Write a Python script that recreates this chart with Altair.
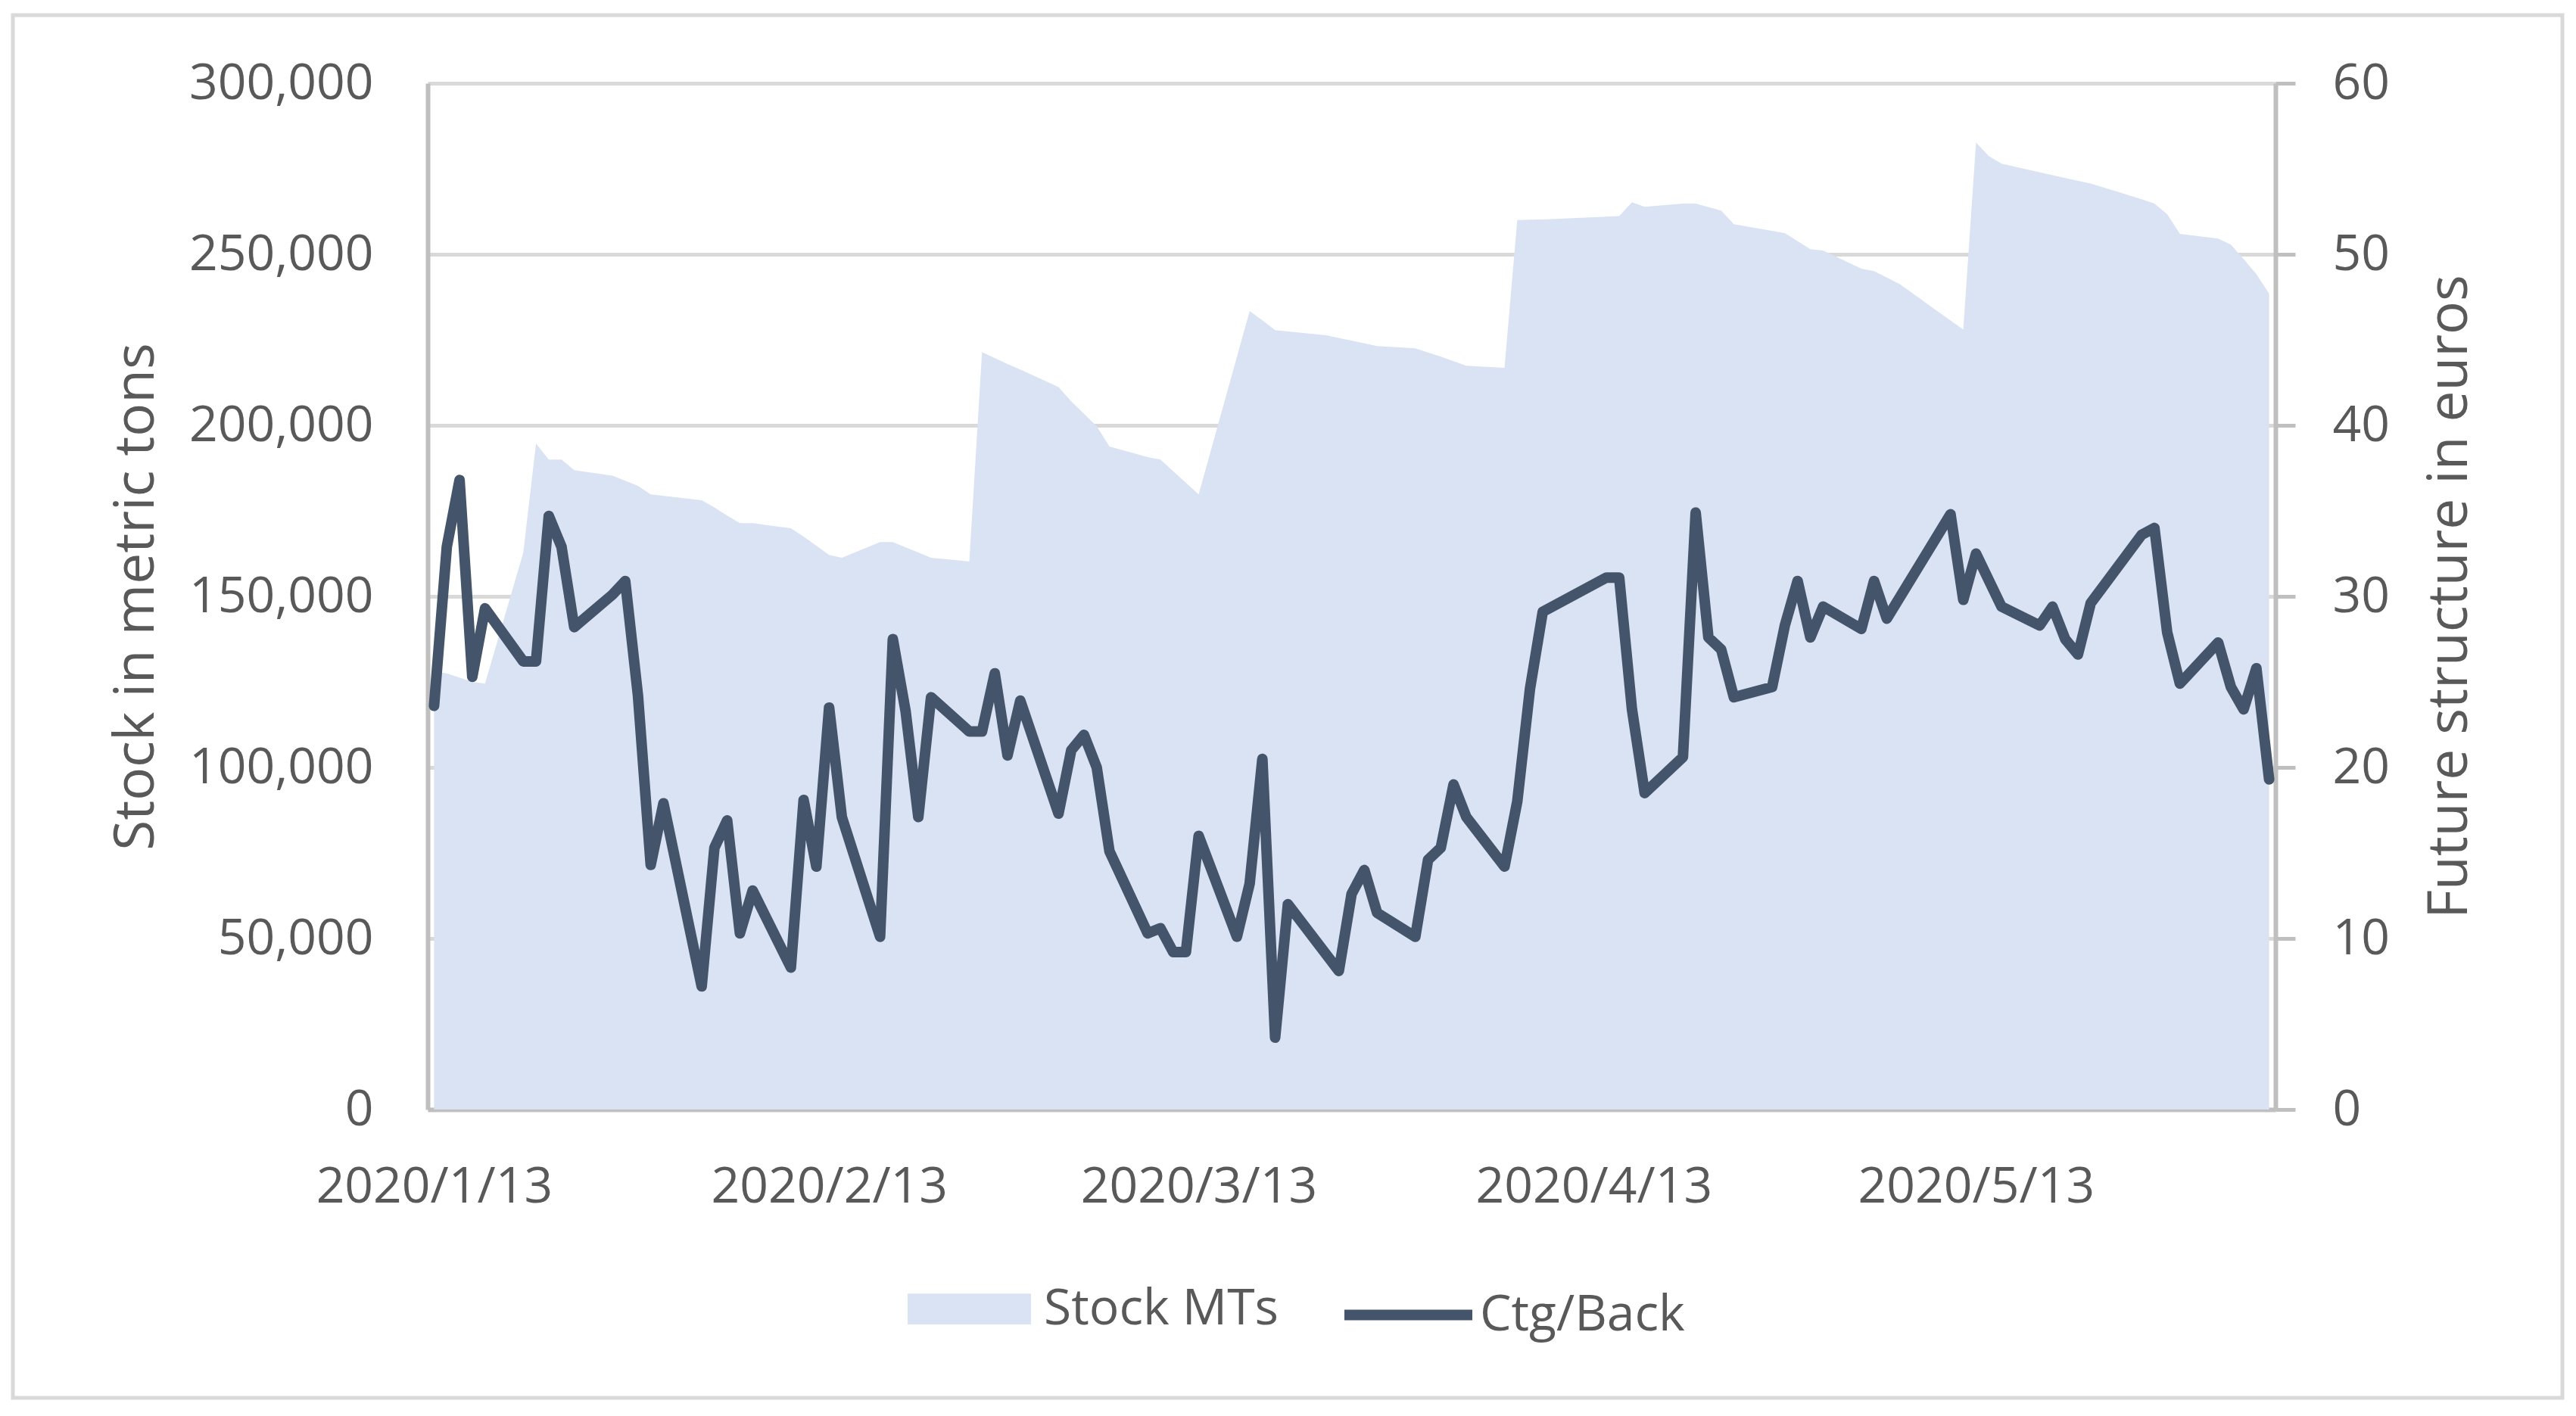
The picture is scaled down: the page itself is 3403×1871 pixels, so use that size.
import altair as alt
import pandas as pd

FONT = "Open Sans"
TEXT = "#595959"
AREA_COLOR = "#dae3f3"
LINE_COLOR = "#44546a"
GRID = "#d9d9d9"
AXIS = "#bfbfbf"

# ---- data ----
stock_dates = [
    "2020-01-13", "2020-01-14", "2020-01-16", "2020-01-17", "2020-01-20", "2020-01-21",
    "2020-01-22", "2020-01-23", "2020-01-24", "2020-01-27", "2020-01-29", "2020-01-30",
    "2020-02-03", "2020-02-04", "2020-02-05", "2020-02-06", "2020-02-07", "2020-02-10",
    "2020-02-11", "2020-02-13", "2020-02-14", "2020-02-17", "2020-02-18", "2020-02-21",
    "2020-02-24", "2020-02-25", "2020-02-27", "2020-02-28", "2020-03-02", "2020-03-03",
    "2020-03-05", "2020-03-06", "2020-03-09", "2020-03-10", "2020-03-13", "2020-03-17",
    "2020-03-18", "2020-03-19", "2020-03-23", "2020-03-27", "2020-03-30", "2020-04-01",
    "2020-04-03", "2020-04-06", "2020-04-07", "2020-04-09", "2020-04-15", "2020-04-16",
    "2020-04-17", "2020-04-20", "2020-04-21", "2020-04-23", "2020-04-24", "2020-04-28",
    "2020-04-30", "2020-05-01", "2020-05-04", "2020-05-05", "2020-05-07", "2020-05-12",
    "2020-05-13", "2020-05-14", "2020-05-15", "2020-05-20", "2020-05-22", "2020-05-26",
    "2020-05-27", "2020-05-28", "2020-05-29", "2020-06-01", "2020-06-02", "2020-06-03",
    "2020-06-04", "2020-06-05",
]
stock_values = [
    128000, 127500, 125000, 124500, 162800, 194700,
    190000, 190000, 186900, 185300, 182300, 179800,
    178100, 176000, 173600, 171400, 171400, 169900,
    167500, 162100, 161300, 165900, 165900, 161300,
    160200, 221400, 217900, 216300, 211200, 207000,
    199700, 193800, 190700, 190000, 179800, 233400,
    230700, 227800, 226300, 223200, 222500, 220100,
    217400, 216800, 260000, 260200, 261200, 265200,
    263900, 264800, 264800, 262800, 258800, 256200,
    251500, 251100, 245800, 245100, 241300, 228000,
    282700, 278700, 276500, 272300, 270700, 266100,
    264800, 261700, 256000, 254600, 252800, 248600,
    244200, 238500,
]

ctg_dates = [
    "2020-01-13", "2020-01-14", "2020-01-15", "2020-01-16", "2020-01-17", "2020-01-20",
    "2020-01-21", "2020-01-22", "2020-01-23", "2020-01-24", "2020-01-27", "2020-01-28",
    "2020-01-29", "2020-01-30", "2020-01-31", "2020-02-03", "2020-02-04", "2020-02-05",
    "2020-02-06", "2020-02-07", "2020-02-10", "2020-02-11", "2020-02-12", "2020-02-13",
    "2020-02-14", "2020-02-17", "2020-02-18", "2020-02-19", "2020-02-20", "2020-02-21",
    "2020-02-24", "2020-02-25", "2020-02-26", "2020-02-27", "2020-02-28", "2020-03-02",
    "2020-03-03", "2020-03-04", "2020-03-05", "2020-03-06", "2020-03-09", "2020-03-10",
    "2020-03-11", "2020-03-12", "2020-03-13", "2020-03-16", "2020-03-17", "2020-03-18",
    "2020-03-19", "2020-03-20", "2020-03-24", "2020-03-25", "2020-03-26", "2020-03-27",
    "2020-03-30", "2020-03-31", "2020-04-01", "2020-04-02", "2020-04-03", "2020-04-06",
    "2020-04-07", "2020-04-08", "2020-04-09", "2020-04-14", "2020-04-15", "2020-04-16",
    "2020-04-17", "2020-04-20", "2020-04-21", "2020-04-22", "2020-04-23", "2020-04-24",
    "2020-04-27", "2020-04-28", "2020-04-29", "2020-04-30", "2020-05-01", "2020-05-04",
    "2020-05-05", "2020-05-06", "2020-05-11", "2020-05-12", "2020-05-13", "2020-05-15",
    "2020-05-18", "2020-05-19", "2020-05-20", "2020-05-21", "2020-05-22", "2020-05-26",
    "2020-05-27", "2020-05-28", "2020-05-29", "2020-06-01", "2020-06-02", "2020-06-03",
    "2020-06-04", "2020-06-05",
]
ctg_values = [
    23.6, 32.9, 36.8, 25.3, 29.3, 26.2,
    26.2, 34.7, 32.9, 28.2, 30.1, 30.9,
    24.2, 14.3, 17.9, 7.2, 15.3, 16.9,
    10.3, 12.8, 8.3, 18.1, 14.2, 23.5,
    17.1, 10.1, 27.5, 23.3, 17.1, 24.1,
    22.1, 22.1, 25.5, 20.7, 23.9, 17.3,
    21.0, 21.9, 20.0, 15.1, 10.3, 10.6,
    9.2, 9.2, 16.0, 10.1, 13.2, 20.5,
    4.2, 12.0, 8.1, 12.6, 14.0, 11.5,
    10.1, 14.6, 15.3, 19.0, 17.1, 14.2,
    18.0, 24.6, 29.1, 31.1, 31.1, 23.4,
    18.5, 20.6, 34.9, 27.6, 26.9, 24.1,
    24.7, 28.3, 30.9, 27.6, 29.4, 28.1,
    30.9, 28.7, 34.8, 29.8, 32.5, 29.4,
    28.3, 29.4, 27.5, 26.6, 29.6, 33.6,
    34.0, 27.9, 24.9, 27.3, 24.7, 23.4,
    25.8, 19.3,
]

x_tick_dates = ["2020-01-13", "2020-02-13", "2020-03-13", "2020-04-13", "2020-05-13"]
left_ticks = [0, 50000, 100000, 150000, 200000, 250000, 300000]
right_ticks = [0, 10, 20, 30, 40, 50, 60]
stock_name = "Stock MTs"
ctg_name = "Ctg/Back"

PLOT_W = 2441
PLOT_H = 1356


def local(d):
    return d + "T00:00:00"


def dt(s, hours=0):
    y, m, d = (int(p) for p in s.split("-"))
    return alt.DateTime(year=y, month=m, date=d, hours=hours)


stock_df = pd.DataFrame({"date": [local(d) for d in stock_dates],
                         "stock": stock_values, "series": stock_name})
ctg_df = pd.DataFrame({"date": [local(d) for d in ctg_dates],
                       "ctg": ctg_values, "series": ctg_name})

x_enc = alt.X(
    "date:T",
    title=None,
    scale=alt.Scale(domain=[dt("2020-01-12", 12), dt("2020-06-05", 12)]),
    axis=alt.Axis(
        values=[dt(t) for t in x_tick_dates],
        labelExpr="timeFormat(datum.value, '%Y/%-m/%-d')",
        grid=False,
        ticks=False,
        domainColor=AXIS,
        domainWidth=6,
        labelPadding=70,
        labelOverlap=False,
        labelFlush=False,
        labelLimit=0,
    ),
)

area = alt.Chart(stock_df).mark_area(interpolate="linear", opacity=1).encode(
    x=x_enc,
    y=alt.Y(
        "stock:Q",
        title="Stock in metric tons",
        scale=alt.Scale(domain=[0, 300000], nice=False),
        axis=alt.Axis(
            orient="left",
            values=left_ticks,
            labelExpr="format(datum.value, ',')",
            grid=True,
            gridColor=GRID,
            gridWidth=5,
            ticks=False,
            domainColor=AXIS,
            domainWidth=6,
            labelPadding=72,
            labelLimit=0,
            titleX=-348,
            titleY=PLOT_H / 2,
            titleAngle=270,
            titleBaseline="bottom",
            titleAlign="center",
        ),
    ),
    color=alt.Color(
        "series:N",
        scale=alt.Scale(domain=[stock_name], range=[AREA_COLOR]),
        legend=alt.Legend(
            orient="none", legendX=634, legendY=1538, title=None, padding=0,
            symbolType="M-1,-0.25H1V0.25H-1Z", symbolSize=26569,
            symbolStrokeWidth=0, symbolOpacity=1, labelOffset=17, labelLimit=0,
        ),
    ),
)

line = alt.Chart(ctg_df).mark_line(
    strokeWidth=14, strokeJoin="round", strokeCap="round"
).encode(
    x=x_enc,
    y=alt.Y(
        "ctg:Q",
        title="Future structure in euros",
        scale=alt.Scale(domain=[0, 60], nice=False),
        axis=alt.Axis(
            orient="right",
            values=right_ticks,
            labelExpr="format(datum.value, 'd')",
            grid=False,
            ticks=True,
            tickSize=26,
            tickColor=AXIS,
            tickWidth=5,
            domainColor=AXIS,
            domainWidth=6,
            labelPadding=49,
            labelLimit=0,
            titleAngle=270,
            titleBaseline="top",
            titlePadding=44,
        ),
    ),
    stroke=alt.Stroke(
        "series:N",
        scale=alt.Scale(domain=[ctg_name], range=[LINE_COLOR]),
        legend=alt.Legend(
            orient="none", legendX=1204, legendY=1536, title=None, padding=0,
            symbolType="stroke", symbolSize=28561, symbolStrokeWidth=14,
            labelOffset=3, labelLimit=0,
        ),
    ),
)

frame = alt.Chart(pd.DataFrame({"k": [0]})).mark_rect(
    fillOpacity=0, stroke=GRID, strokeWidth=5
).encode(
    x=alt.value(-548), x2=alt.value(2820), y=alt.value(-90), y2=alt.value(1737)
)

chart = (
    alt.layer(area, line, frame)
    .resolve_scale(y="independent")
    .properties(
        width=PLOT_W,
        height=PLOT_H,
        autosize=alt.AutoSizeParams(type="none"),
        padding={"left": 557, "top": 102, "right": 389, "bottom": 392},
        background="white",
    )
    .configure_view(stroke="transparent")
    .configure_axis(
        labelFont=FONT, titleFont=FONT, labelColor=TEXT, titleColor=TEXT,
        labelFontSize=66, titleFontSize=73, titleFontWeight="normal",
    )
    .configure_legend(labelFont=FONT, labelFontSize=66, labelColor=TEXT)
)

chart.save("out.html", embed_options={"renderer": "svg", "actions": False})
